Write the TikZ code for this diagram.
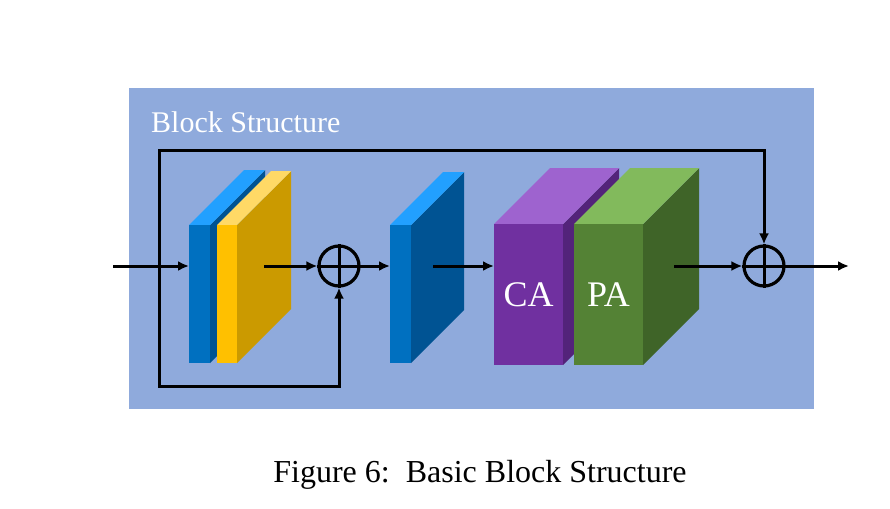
\documentclass[tikz,border=0pt]{standalone}
\usepackage{fontspec}
\setmainfont{Liberation Serif}
\usepackage{xcolor}
\usepackage{tikz}
\usetikzlibrary{arrows.meta,positioning}

% cuboid: name, left, top, width, height, depth, front, top colour, side colour
\newcommand{\cuboid}[9]{%
  \fill[#9] (#2+#4,#3) -- ++(#6,-#6) -- ++(0,#5) -- ++(-#6,#6) -- cycle;
  \fill[#8] (#2,#3) -- (#2+#4,#3) -- ++(#6,-#6) -- (#2+#6,#3-#6) -- cycle;
  \node[face,fill=#7,minimum width=#4pt,minimum height=#5pt,anchor=north west] (#1) at (#2,#3) {};
}

\begin{document}
\begin{tikzpicture}[x=1pt,y=-1pt]
    \definecolor{bgblue}{HTML}{8FAADC}
    \definecolor{convf}{HTML}{0070C0}
    \definecolor{convt}{HTML}{22A0FF}
    \definecolor{convs}{HTML}{005393}
    \definecolor{actf}{HTML}{FFC000}
    \definecolor{actt}{HTML}{FFD966}
    \definecolor{acts}{HTML}{CB9A00}
    \definecolor{caf}{HTML}{7030A0}
    \definecolor{cat}{HTML}{9E63CF}
    \definecolor{cas}{HTML}{53237A}
    \definecolor{paf}{HTML}{548235}
    \definecolor{pat}{HTML}{82BA5C}
    \definecolor{pas}{HTML}{3F6428}

    \tikzstyle{face}=[rectangle,inner sep=0pt,outer sep=0pt]  % front face of a block
    \tikzstyle{sum}=[circle,draw,line width=3.2pt,minimum size=40pt,inner sep=0pt]  % adder
    \tikzstyle{arr}=[line width=3pt,-{Latex[length=11pt,width=10pt]}]  % connector
    \tikzstyle{lbl}=[text=white,inner sep=0pt,font=\fontsize{36}{40}\selectfont]

    \useasboundingbox (0,0) rectangle (890,508);
    \fill[bgblue] (129,88) rectangle (814,409);
    \node[lbl,anchor=base west,font=\fontsize{30}{34}\selectfont] (title) at (151,132) {Block Structure};

    % blocks
    \cuboid{conv1}{189}{225}{21}{138}{55}{convf}{convt}{convs}
    \cuboid{act1}{217}{225}{20}{138}{54}{actf}{actt}{acts}
    \cuboid{conv2}{390}{225}{21}{138}{53}{convf}{convt}{convs}
    \cuboid{ca}{494}{224}{69}{141}{56}{caf}{cat}{cas}
    \cuboid{pa}{574}{224}{69}{141}{56}{paf}{pat}{pas}
    \node[lbl,anchor=base] (calbl) at ([yshift=-11.5pt]ca.center) {CA};
    \node[lbl,anchor=base] (palbl) at ([yshift=-11.5pt]pa.center) {PA};

    % adders
    \node[sum] (add1) at (339,266) {};
    \node[sum] (add2) at (764,266) {};
    \draw[line width=3pt] (add1.north) -- (add1.south) (add1.west) -- (add1.east);
    \draw[line width=3pt] (add2.north) -- (add2.south) (add2.west) -- (add2.east);

    % points
    \coordinate (in) at (113,266);
    \coordinate (tap) at (159,266);
    \coordinate (out1) at (264,266);
    \coordinate (out2) at (433,266);
    \coordinate (out3) at (674,266);
    \coordinate (out) at (849,266);

    % lines
    \draw[arr] (in) -- (conv1.west |- in);
    \draw[arr] (out1) -- (add1.west);
    \draw[arr] (add1.east) -- (conv2.west |- add1);
    \draw[arr] (out2) -- (ca.west |- out2);
    \draw[arr] (out3) -- (add2.west);
    \draw[arr] (add2.east) -- (out);
    \draw[arr] (tap) -- ++(0,120) -| (add1.south);
    \draw[arr] (tap) -- ++(0,-116) -| (add2.north);

    \node[anchor=base,font=\fontsize{32}{36}\selectfont,inner sep=0pt] (caption) at (480,482) {Figure 6:\ \ Basic Block Structure};
\end{tikzpicture}
\end{document}
